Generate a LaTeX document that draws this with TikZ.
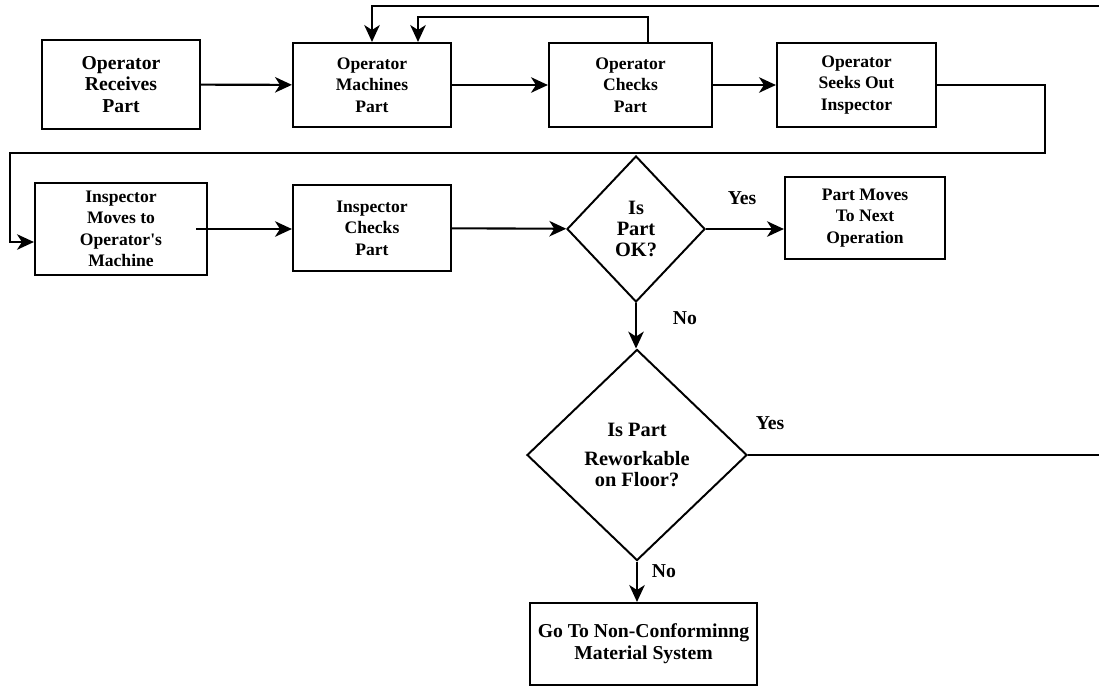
\documentclass[tikz,border=0pt]{standalone}
\usepackage{fontspec}
\setmainfont{Liberation Serif}
\usetikzlibrary{arrows.meta, shapes.geometric}

\begin{document}
\begin{tikzpicture}
		[
			x=0.025cm, y=-0.025cm,
			box/.style={rectangle, draw, line width=1.5pt, align=center, inner sep=1pt, font=\fontsize{12.5}{15.2}\selectfont\bfseries},
			bigbox/.style={box, font=\fontsize{14}{15.5}\selectfont\bfseries},
			decision/.style={diamond, draw, line width=1.4pt, align=center, inner sep=0pt, font=\fontsize{14.5}{15}\selectfont\bfseries},
			answer/.style={font=\fontsize{14}{16}\selectfont\bfseries},
			arrow/.style={line width=1.5pt, -{Stealth[length=12pt, width=11pt, inset=3.5pt]}},
		]

		\path[use as bounding box, clip] (0,0) rectangle (1099,687);

		% Nodes
		\node[bigbox, minimum width=3.95cm, minimum height=2.225cm] (recv) at (121,84.5) {Operator\\Receives\\Part};
		\node[box, minimum width=3.95cm, minimum height=2.1cm] (mach) at (372,85) {Operator\\Machines\\Part};
		\node[box, minimum width=4.075cm, minimum height=2.1cm] (chk) at (630.5,85) {Operator\\Checks\\Part};
		\node[box, minimum width=3.975cm, minimum height=2.1cm] (seek) at (856.5,85) {Operator\\Seeks Out\\Inspector};
		\node[box, minimum width=4.3cm, minimum height=2.3cm] (insmove) at (121,229) {Inspector\\Moves to\\Operator\textquotesingle s\\Machine};
		\node[box, minimum width=3.95cm, minimum height=2.15cm] (inscheck) at (372,228) {Inspector\\Checks\\Part};
		\node[decision, minimum width=3.45cm, minimum height=3.65cm] (ok) at (636,229) {Is\\Part\\OK?};
		\node[box, minimum width=4cm, minimum height=2.05cm] (next) at (865,218) {Part Moves\\To Next\\Operation};
		\node[decision, minimum width=5.5cm, minimum height=5.275cm] (rework) at (637,455) {Is Part\\[6pt]Reworkable\\on Floor?};
		\node[bigbox, minimum width=5.675cm, minimum height=2.05cm] (ncm) at (643.5,644) {Go To Non-Conforminng\\Material System};

		% Answers
		\node[answer] (yesok) at (742,198) {Yes};
		\node[answer] (nook) at (685,318) {No};
		\node[answer] (yesrework) at (770,423) {Yes};
		\node[answer] (norework) at (664,571) {No};

		% Corners of the return lines
		\coordinate (topout) at (1110,6);
		\coordinate (topin) at (418,17);
		\coordinate (seekturn) at (1045,153);
		\coordinate (leftturn) at (10,153);

		% Edges
		\foreach \u/\v in
		{
			recv/mach,
			mach/chk,
			chk/seek,
			inscheck/ok}
			\draw[arrow] (\u) -- (\v);

		\draw[arrow] ([xshift=-0.3cm]insmove.east) -- (insmove.east -| inscheck.west);
		\draw[arrow] (ok.east) -- (ok.east -| next.west);
		\draw[arrow] (ok.south) -- (ok.south |- rework.north);
		\draw[arrow] (rework.south) -- (rework.south |- ncm.north);

		% Return lines
		\draw[arrow] (seek.east) -| (seekturn) -- (leftturn) |- ([yshift=-0.325cm]insmove.west);
		\draw[arrow] ([xshift=0.44cm]chk.north) |- (topin) -- (topin |- mach.north);
		\draw[arrow] (rework.east) -| (topout) -| (mach.north);

\end{tikzpicture}
\end{document}
